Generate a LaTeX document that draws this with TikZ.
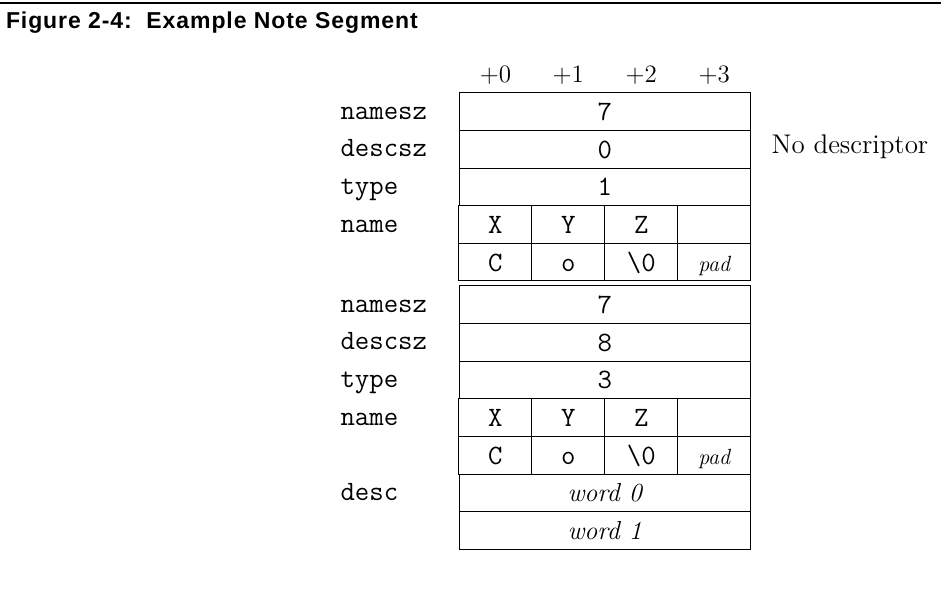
\documentclass[tikz,border=0pt]{standalone}
\usepackage{fontspec}
\newfontfamily\headfont[LetterSpace=4]{Liberation Sans}

\begin{document}
\begin{tikzpicture}[x=0.5pt, y=-0.5pt]
\tikzset{ inner sep=0pt, outer sep=0pt,
  cell/.style={draw, line width=0.5pt, minimum height=18.8pt,
    text height=9pt, text depth=0pt, font=\ttfamily\fontsize{14}{16}\selectfont},
  word/.style={cell, minimum width=145.75pt},
  byte/.style={cell, minimum width=36.45pt},
  field/.style={anchor=base west, font=\ttfamily\fontsize{14}{16}\selectfont},
  col/.style={anchor=base, font=\fontsize{12.5}{14}\selectfont},
  ital/.style={font=\itshape\fontsize{13}{15}\selectfont},
  padtext/.style={font=\itshape\fontsize{11}{13}\selectfont},
}

%\draw [lightgray, dashed](0,0) grid (941,592);
\useasboundingbox (0,0) rectangle (941,592);

\draw [line width=0.6pt] (0,3) -- (941,3);
\node [anchor=base west, font=\headfont\bfseries\fontsize{11.5}{13}\selectfont] (title) at (6,28.3) {Figure 2-4:\ \ Example Note Segment};

\node [col] (c0) at (495.4,82.7) {+0};
\node [col] (c1) at (568.3,82.7) {+1};
\node [col] (c2) at (641.3,82.7) {+2};
\node [col] (c3) at (714.2,82.7) {+3};

% first note
\node [word] (sz1)   at (604.75,111.8) {7};
\node [word] (dsz1)  at (604.75,149.4) {0};
\node [word] (type1) at (604.75,187.0) {1};

\node [byte] (x1) at (495.4,224.6) {X};
\node [byte] (y1) at (568.3,224.6) {Y};
\node [byte] (z1) at (641.3,224.6) {Z};
\node [byte] (e1) at (714.2,224.6) {};

\node [byte] (c1) at (495.4,262.2) {C};
\node [byte] (o1) at (568.3,262.2) {o};
\node [byte] (nul1) at (641.3,262.2) {\textbackslash0};
\node [byte, padtext] (pad1) at (714.2,262.2) {pad};

% second note
\node [word] (sz2)   at (604.75,304.8) {7};
\node [word] (dsz2)  at (604.75,342.4) {8};
\node [word] (type2) at (604.75,380.0) {3};

\node [byte] (x2) at (495.4,417.6) {X};
\node [byte] (y2) at (568.3,417.6) {Y};
\node [byte] (z2) at (641.3,417.6) {Z};
\node [byte] (e2) at (714.2,417.6) {};

\node [byte] (c2) at (495.4,455.2) {C};
\node [byte] (o2) at (568.3,455.2) {o};
\node [byte] (nul2) at (641.3,455.2) {\textbackslash0};
\node [byte, padtext] (pad2) at (714.2,455.2) {pad};

\node [word, ital] (w0) at (604.75,492.8) {word 0};
\node [word, ital] (w1) at (604.75,530.4) {word 1};

% field names
\node [field] (l1) at (340.5,119.3) {namesz};
\node [field] (l2) at (340.5,156.9) {descsz};
\node [field] (l3) at (340.5,194.5) {type};
\node [field] (l4) at (340.5,232.1) {name};
\node [field] (l5) at (340.5,312.3) {namesz};
\node [field] (l6) at (340.5,349.9) {descsz};
\node [field] (l7) at (340.5,387.5) {type};
\node [field] (l8) at (340.5,425.1) {name};
\node [field] (l9) at (340.5,500.3) {desc};

\node [anchor=base west, font=\fontsize{13.5}{15}\selectfont] (nodesc) at (771.7,153.3) {No descriptor};

\end{tikzpicture}
\end{document}
